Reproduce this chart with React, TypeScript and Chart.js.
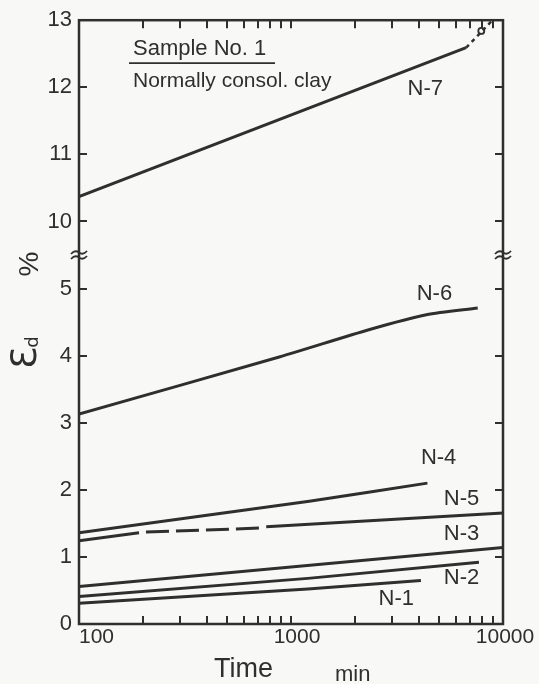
import React, { useEffect, useRef } from "react";
import { Chart, registerables } from "chart.js";

Chart.register(...registerables);

// ---------- data (time in min, strain εd in %) ----------
const N1_TIME = [100, 1200, 4100];
const N1_STRAIN = [0.31, 0.52, 0.65];

const N2_TIME = [100, 1200, 7700];
const N2_STRAIN = [0.41, 0.68, 0.92];

const N3_TIME = [100, 10000];
const N3_STRAIN = [0.56, 1.14];

const N4_TIME = [100, 1220, 4400];
const N4_STRAIN = [1.36, 1.83, 2.1];

const N5_TIME = [100, 192, 207, 708, 764, 10000];
const N5_STRAIN = [1.24, 1.36, 1.37, 1.43, 1.45, 1.655];

const N6_TIME = [100, 880, 2350, 4350, 7600];
const N6_STRAIN = [3.13, 3.98, 4.39, 4.61, 4.71];

const N7_TIME = [100, 6700];
const N7_STRAIN = [10.37, 12.59];
const N7_TAIL_TIME = [6700, 8800];
const N7_TAIL_STRAIN = [12.59, 12.98];
const N7_MARK_TIME = [7900];
const N7_MARK_STRAIN = [12.84];

const SERIES_NAMES = ["N-1", "N-2", "N-3", "N-4", "N-5", "N-6", "N-7"];
const NAME_TIME = [3140, 6370, 6370, 4970, 6370, 4750, 4300];
const NAME_STRAIN = [0.37, 0.68, 1.34, 2.47, 1.86, 4.92, 11.98];

const TIME_TICKS = [100, 1000, 10000];
const TIME_TICK_LABELS = ["100", "1000", "10000"];
const TIME_MINOR_TICKS = [200, 300, 400, 500, 600, 700, 800, 900, 1000, 2000, 3000, 4000, 5000, 6000, 7000, 8000, 9000];
const STRAIN_TICKS = [0, 1, 2, 3, 4, 5, 10, 11, 12, 13];

// axis break: 5 … 10 compressed to one unit
const LOWER_MAX = 5;
const UPPER_MIN = 10;
const GAP = UPPER_MIN - LOWER_MAX - 1;
const toAxis = (v: number) => (v >= UPPER_MIN ? v - GAP : v);
const fromAxis = (v: number) => (v > LOWER_MAX ? v + GAP : v);
const BREAK_AT = LOWER_MAX + 0.5;

// N-5 segment styles
const N5_SEGMENTS = ["solid", "gap", "dash", "gap", "solid"];

const INK = "#2f2f2f";
const BG = "#f8f8f6";

const pts = (t: number[], e: number[]) => t.map((x, i) => ({ x, y: toAxis(e[i]) }));

const decor = {
  id: "decor",
  beforeDraw(chart: any) {
    const { ctx, width, height } = chart;
    ctx.save();
    ctx.fillStyle = BG;
    ctx.fillRect(0, 0, width, height);
    ctx.restore();
  },
  afterDraw(chart: any) {
    const { ctx, chartArea: a, scales } = chart;
    const x = scales.x;
    const y = scales.y;
    ctx.save();
    ctx.setLineDash([]);
    ctx.strokeStyle = INK;
    ctx.fillStyle = INK;

    // frame
    ctx.lineWidth = 2.5;
    ctx.strokeRect(a.left, a.top, a.right - a.left, a.bottom - a.top);

    // minor time ticks (inward, top and bottom)
    ctx.lineWidth = 2;
    for (const t of TIME_MINOR_TICKS) {
      const px = Math.round(x.getPixelForValue(t));
      ctx.beginPath();
      ctx.moveTo(px, a.bottom);
      ctx.lineTo(px, a.bottom - 8);
      ctx.stroke();
      ctx.beginPath();
      ctx.moveTo(px, a.top);
      ctx.lineTo(px, a.top + 8);
      ctx.stroke();
    }

    // strain ticks (inward, left and right)
    for (const v of STRAIN_TICKS.slice(1, -1)) {
      const py = Math.round(y.getPixelForValue(toAxis(v)));
      ctx.beginPath();
      ctx.moveTo(a.left, py);
      ctx.lineTo(a.left + 8, py);
      ctx.stroke();
      ctx.beginPath();
      ctx.moveTo(a.right, py);
      ctx.lineTo(a.right - 8, py);
      ctx.stroke();
    }

    // break marks
    const by = y.getPixelForValue(BREAK_AT);
    ctx.lineWidth = 1.8;
    [a.left, a.right].forEach((ax) => {
      [-2.5, 2.5].forEach((dy) => {
        ctx.beginPath();
        ctx.moveTo(ax - 8, by + dy + 1.5);
        ctx.quadraticCurveTo(ax - 4, by + dy - 3, ax, by + dy);
        ctx.quadraticCurveTo(ax + 4, by + dy + 3, ax + 8, by + dy - 1.5);
        ctx.stroke();
      });
    });

    // time tick labels
    ctx.font = "21px 'Liberation Sans', Arial, sans-serif";
    ctx.textBaseline = "top";
    TIME_TICKS.forEach((t, i) => {
      const px = x.getPixelForValue(t);
      if (i === 0) {
        ctx.textAlign = "left";
        ctx.fillText(TIME_TICK_LABELS[i], px, a.bottom + 3);
      } else {
        ctx.textAlign = "center";
        ctx.fillText(TIME_TICK_LABELS[i], px + (i === 1 ? 6 : 2), a.bottom + 3);
      }
    });

    // x title
    ctx.textBaseline = "alphabetic";
    ctx.textAlign = "left";
    ctx.font = "27px 'Liberation Sans', Arial, sans-serif";
    ctx.fillText("Time", 214, 677);
    ctx.font = "22px 'Liberation Sans', Arial, sans-serif";
    ctx.fillText("min", 335, 681);

    // y title (rotated)
    ctx.save();
    ctx.translate(27, 358);
    ctx.rotate(-Math.PI / 2);
    ctx.textAlign = "center";
    ctx.textBaseline = "middle";
    ctx.font = "36px 'DejaVu Sans', sans-serif";
    ctx.fillText("Ɛ", 0, 0);
    ctx.font = "18px 'DejaVu Sans', sans-serif";
    ctx.fillText("d", 16, 6);
    ctx.restore();
    ctx.save();
    ctx.translate(30, 264);
    ctx.rotate(-Math.PI / 2);
    ctx.textAlign = "center";
    ctx.textBaseline = "middle";
    ctx.font = "28px 'Liberation Sans', Arial, sans-serif";
    ctx.fillText("%", 0, 0);
    ctx.restore();

    // series names
    ctx.font = "22px 'Liberation Sans', Arial, sans-serif";
    ctx.textAlign = "center";
    ctx.textBaseline = "middle";
    SERIES_NAMES.forEach((n, i) => {
      ctx.fillText(n, x.getPixelForValue(NAME_TIME[i]), y.getPixelForValue(toAxis(NAME_STRAIN[i])));
    });

    // sample note
    ctx.textAlign = "left";
    ctx.textBaseline = "alphabetic";
    ctx.font = "22px 'Liberation Sans', Arial, sans-serif";
    ctx.fillText("Sample No. 1", a.left + 54, a.top + 35);
    ctx.lineWidth = 1.8;
    ctx.beginPath();
    ctx.moveTo(a.left + 50, a.top + 43);
    ctx.lineTo(a.left + 196, a.top + 43);
    ctx.stroke();
    ctx.font = "21px 'Liberation Sans', Arial, sans-serif";
    ctx.fillText("Normally consol. clay", a.left + 54, a.top + 67);

    ctx.restore();
  },
};

export default function App() {
  const ref = useRef<HTMLCanvasElement | null>(null);

  useEffect(() => {
    if (!ref.current) return;
    const line = (data: any[], extra: any = {}) => ({
      data,
      borderColor: INK,
      backgroundColor: INK,
      borderWidth: 3,
      pointRadius: 0,
      fill: false,
      tension: 0,
      ...extra,
    });
    const chart = new Chart(ref.current, {
      type: "line",
      data: {
        datasets: [
          line(pts(N1_TIME, N1_STRAIN)),
          line(pts(N2_TIME, N2_STRAIN)),
          line(pts(N3_TIME, N3_STRAIN)),
          line(pts(N4_TIME, N4_STRAIN), { tension: 0.2 }),
          line(pts(N5_TIME, N5_STRAIN), {
            segment: {
              borderDash: (c: any) => (N5_SEGMENTS[c.p0DataIndex] === "dash" ? [23, 7] : undefined),
              borderColor: (c: any) => (N5_SEGMENTS[c.p0DataIndex] === "gap" ? "rgba(0,0,0,0)" : undefined),
            },
          }),
          line(pts(N6_TIME, N6_STRAIN), { tension: 0.25 }),
          line(pts(N7_TIME, N7_STRAIN)),
          line(pts(N7_TAIL_TIME, N7_TAIL_STRAIN), { borderDash: [4, 4], borderWidth: 2.5 }),
          line(pts(N7_MARK_TIME, N7_MARK_STRAIN), {
            showLine: false,
            pointRadius: 3,
            pointBorderWidth: 1.8,
            pointBackgroundColor: "rgba(0,0,0,0)",
            pointBorderColor: INK,
          }),
        ],
      },
      options: {
        animation: false,
        responsive: true,
        maintainAspectRatio: false,
        layout: { padding: { top: 15, right: 36, left: 0, bottom: 0 } },
        plugins: { legend: { display: false }, tooltip: { enabled: false } },
        events: [],
        scales: {
          x: {
            type: "logarithmic",
            min: 100,
            max: 10000,
            grid: { display: false, drawTicks: false },
            border: { display: false },
            ticks: { display: false },
            afterFit: (s: any) => {
              s.height = 60;
            },
          },
          y: {
            type: "linear",
            min: 0,
            max: toAxis(13),
            grid: { display: false, drawTicks: false },
            border: { display: false },
            afterBuildTicks: (s: any) => {
              s.ticks = STRAIN_TICKS.map((v) => ({ value: toAxis(v) }));
            },
            ticks: {
              color: INK,
              padding: 7,
              font: { family: "'Liberation Sans', Arial, sans-serif", size: 22 },
              callback: (v: any) => String(fromAxis(Number(v))),
            },
            afterFit: (s: any) => {
              s.width = 79;
            },
          },
        },
      },
      plugins: [decor],
    });
    return () => chart.destroy();
  }, []);

  return (
    <div style={{ position: "absolute", left: 0, top: 0, width: 539, height: 684, background: BG }}>
      <canvas ref={ref} />
    </div>
  );
}
